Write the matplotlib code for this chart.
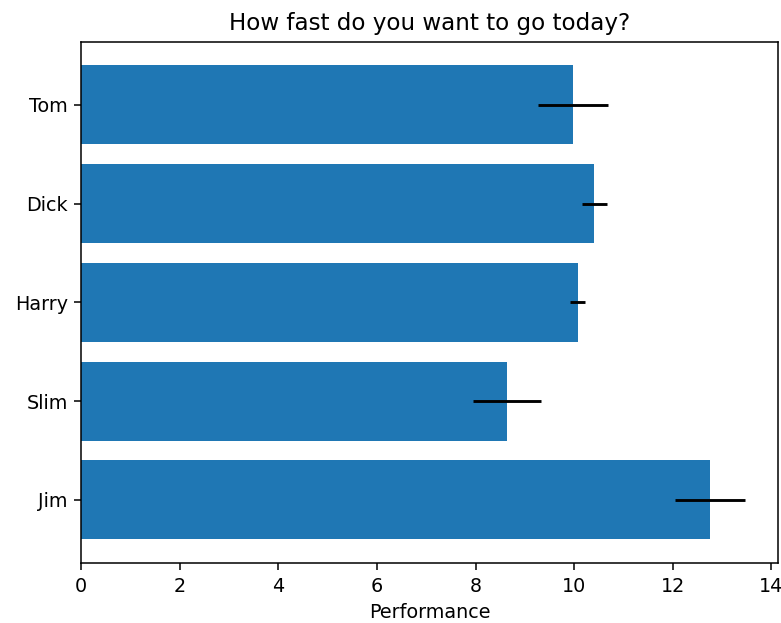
import matplotlib
matplotlib.use("Agg")
import matplotlib.pyplot as plt
import numpy as np

people = ['Tom', 'Dick', 'Harry', 'Slim', 'Jim']
performance = [9.98, 10.41, 10.07, 8.63, 12.75]
error = [0.71, 0.25, 0.155, 0.69, 0.71]

# reference looks rendered at a higher dpi, so text and lines are a bit larger
dpi = 138
fig, ax = plt.subplots(figsize=(781 / dpi, 623 / dpi), dpi=dpi)
fig.subplots_adjust(left=0.104, right=0.996, top=0.933, bottom=0.096)

y_pos = np.arange(len(people))
ax.barh(y_pos, performance, xerr=error, align='center')
ax.set_yticks(y_pos, labels=people)
ax.invert_yaxis()
ax.set_xlabel('Performance')
ax.set_title('How fast do you want to go today?')

fig.savefig("out.png", dpi=dpi)
